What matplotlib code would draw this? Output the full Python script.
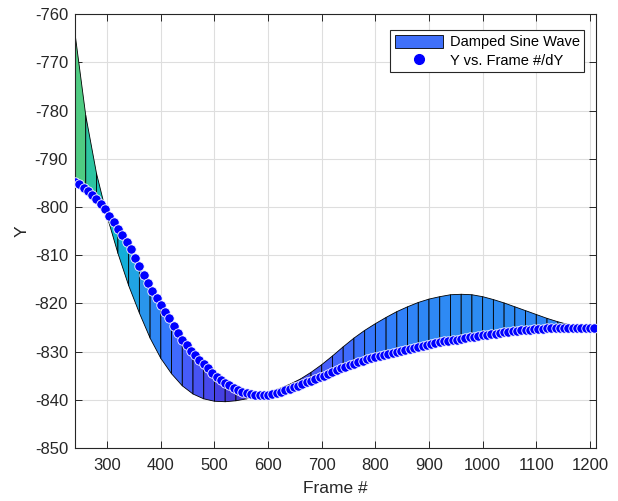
import numpy as np
import matplotlib.pyplot as plt
from matplotlib.collections import PolyCollection
from matplotlib.colors import LinearSegmentedColormap, PowerNorm
from matplotlib.patches import Patch
from matplotlib.lines import Line2D

plt.rcParams['font.family'] = ['Liberation Sans', 'DejaVu Sans']
plt.rcParams['axes.unicode_minus'] = False

# tracked Y position, one sample every 8 frames
frames = np.arange(240, 1209, 8)
y_track = [
    -794.8, -795.3, -796.0, -796.7, -797.5, -798.4, -799.4, -800.5,
    -801.9, -803.2, -804.5, -805.9, -807.2, -808.8, -810.6, -812.3,
    -814.1, -815.8, -817.4, -818.8, -820.3, -821.7, -823.1, -824.6,
    -826.1, -827.5, -828.7, -829.8, -830.8, -831.7, -832.6, -833.5,
    -834.4, -835.2, -835.9, -836.5, -837.0, -837.5, -837.9, -838.3,
    -838.6, -838.8, -839.0, -839.1, -839.0, -838.9, -838.8, -838.6,
    -838.3, -838.0, -837.7, -837.4, -837.1, -836.8, -836.4, -836.1,
    -835.7, -835.3, -835.0, -834.6, -834.2, -833.8, -833.5, -833.1,
    -832.8, -832.5, -832.2, -831.9, -831.6, -831.3, -831.1, -830.9,
    -830.7, -830.4, -830.2, -830.0, -829.8, -829.6, -829.4, -829.2,
    -829.0, -828.8, -828.6, -828.4, -828.2, -828.0, -827.8, -827.7,
    -827.6, -827.5, -827.3, -827.1, -827.0, -826.9, -826.7, -826.6,
    -826.5, -826.4, -826.3, -826.2, -826.0, -825.9, -825.8, -825.7,
    -825.6, -825.5, -825.5, -825.4, -825.3, -825.3, -825.2, -825.2,
    -825.2, -825.2, -825.2, -825.2, -825.2, -825.2, -825.2, -825.2,
    -825.2, -825.2,
]

# damped sine fit, evaluated every 20 frames
wave_frames = np.r_[np.arange(240, 1201, 20), 1212]
y_wave = [
    -764.0, -781.0, -793.0, -802.0, -809.6, -816.3, -822.0, -827.2,
    -831.4, -834.6, -837.1, -838.8, -839.8, -840.3, -840.4, -840.2,
    -839.8, -839.2, -838.5, -837.7, -836.8, -835.7, -834.3, -832.7,
    -830.9, -829.0, -827.2, -825.6, -824.2, -822.9, -821.7, -820.7,
    -819.8, -819.1, -818.6, -818.2, -818.1, -818.2, -818.6, -819.2,
    -819.9, -820.7, -821.5, -822.3, -823.1, -823.8, -824.4, -824.9,
    -825.3, -825.5,
]

parula = LinearSegmentedColormap.from_list('parula', [
    (0.2422, 0.1504, 0.6603), (0.2706, 0.2147, 0.8364),
    (0.2813, 0.3006, 0.9414), (0.2699, 0.3892, 0.9906),
    (0.1963, 0.4847, 0.9892), (0.1687, 0.5703, 0.9359),
    (0.1248, 0.6459, 0.8883), (0.0297, 0.7082, 0.8163),
    (0.0964, 0.7500, 0.7120), (0.2161, 0.7843, 0.5923),
    (0.3909, 0.8029, 0.4354), (0.6174, 0.7876, 0.2612),
    (0.8203, 0.7498, 0.1535), (0.9728, 0.7298, 0.2394),
    (0.9892, 0.8136, 0.1885), (0.9597, 0.9135, 0.1423),
    (0.9769, 0.9839, 0.0805),
])

# one quad per segment between the fitted wave and the track,
# shaded by the mean height of its corners
y_track_at_wave = np.interp(wave_frames, frames, y_track)
polys, shade = [], []
for i in range(len(wave_frames) - 1):
    x0, x1 = wave_frames[i], wave_frames[i + 1]
    quad = [(x0, y_wave[i]), (x1, y_wave[i + 1]),
            (x1, y_track_at_wave[i + 1]), (x0, y_track_at_wave[i])]
    polys.append(quad)
    shade.append(np.mean([q[1] for q in quad]))

fig = plt.figure(figsize=(6.18, 5.01), dpi=100)
ax = fig.add_axes([0.1214, 0.1058, 0.8436, 0.8657])

norm = PowerNorm(gamma=0.6, vmin=-840.5, vmax=-705.9)
pc = PolyCollection(polys, facecolors=parula(norm(shade)),
                    edgecolors='black', linewidths=0.6, zorder=2)
ax.add_collection(pc)

ax.scatter(frames, y_track, s=46, c='blue', edgecolors='white',
           linewidths=0.6, zorder=3)

ax.set_xlim(240, 1212)
ax.set_ylim(-850, -760)
ax.set_xticks(np.arange(300, 1201, 100))
ax.set_yticks(np.arange(-850, -759, 10))

ax.grid(True, color='#dedede', linewidth=0.8, zorder=0)
ax.set_axisbelow(True)
ax.tick_params(direction='in', length=5, width=0.7, top=True, right=True,
               labelsize=12, colors='#262626')
ax.tick_params(axis='x', pad=7)
ax.tick_params(axis='y', pad=5)
for s in ax.spines.values():
    s.set_color('#262626')
    s.set_linewidth(0.8)

ax.set_xlabel('Frame #', fontsize=12.5, color='#262626', labelpad=6)
ax.set_ylabel('Y', fontsize=12.5, color='#262626', labelpad=4)

handles = [
    Patch(facecolor='#4070fa', edgecolor='black', linewidth=0.6,
          label='Damped Sine Wave'),
    Line2D([], [], linestyle='none', marker='o', markersize=7,
           markerfacecolor='blue', markeredgecolor='blue',
           label='Y vs. Frame #/dY'),
]
leg = ax.legend(handles=handles, loc='upper right',
                bbox_to_anchor=(1 - 12 / 521.4, 1 - 16 / 433.7),
                fontsize=10.5, fancybox=False, framealpha=1,
                edgecolor='#262626', borderpad=0.3, handlelength=3.3,
                handleheight=1.0, borderaxespad=0, labelspacing=0.3,
                handletextpad=0.5)
leg.get_frame().set_linewidth(0.8)

fig.savefig('out.png', dpi=100)
